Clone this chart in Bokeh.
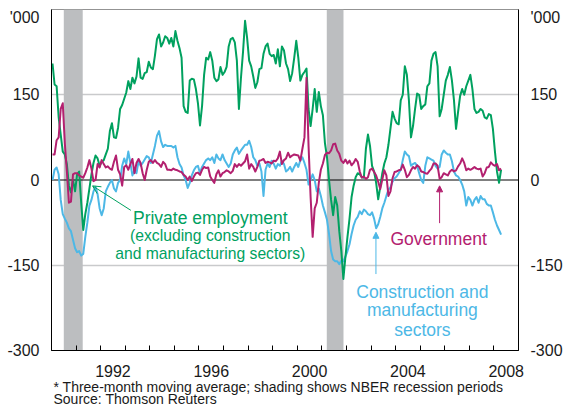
from bokeh.plotting import figure
from bokeh.models import (Range1d, LinearAxis, FixedTicker, BoxAnnotation, Span,
                          Arrow, OpenHead, NormalHead, Title)
from bokeh.embed import file_html
from bokeh.resources import INLINE
from bokeh.core.properties import value

# ---------------- data (monthly, from January 1990; '000, 3-month moving average) -------------
start_year = 1990

private_employment = [
    205, 168, 165, 110, 80, 50, 45, 28, -10, -22,
    0, -20, 10, 15, -40, -88, -60, -40, -15, 10,
    30, 43, 38, 25, 32, 35, 45, 55, 86, 100,
    75, 74, 92, 125, 132, 143, 154, 174, 160, 180,
    170, 182, 214, 180, 178, 188, 190, 208, 198, 195,
    219, 248, 256, 235, 242, 253, 250,
    240, 250, 235, 262, 245, 232, 215, 130, 120, 118,
    175, 178, 177, 160, 135, 96, 130, 185, 215, 212,
    225, 210, 180, 174, 177, 199, 185, 190, 199, 235,
    248, 250, 242, 210, 125, 180, 225, 280, 250, 210,
    200, 182, 162, 172, 195, 197, 222, 235, 240, 222,
    218, 220, 205, 230, 200, 235, 228,
    205, 195, 174, 188, 215, 245, 215, 175, 185, 190,
    196, 125, 95, 125, 160, 120, 155, 130, 114, 65,
    40, 0, -35, -62, -30, -45, -90, -125, -174, -135,
    -100, -68, -30, -10, 5, 12, 10, 5, 4, 55,
    80, 60, 25, 15, -5, -34, -12, 12, 29, 40,
    62, 91, 120, 108, 100, 98, 140,
    150, 200, 185, 140, 75, 95, 125, 152, 150, 125,
    130, 133, 165, 170, 210, 222, 225, 200, 112, 125,
    150, 175, 185, 199, 175, 140, 90, 120, 148, 160,
    150, 165, 175, 185, 160, 125, 118, 120, 125, 122,
    110, 108, 116, 114, 90, 50, 15, -5, 18,
]

government = [
    45, 45, 70, 75, 125, 135, 65, 15, -40, -38,
    10, 12, 12, 8, 6, 4, 12, 22, 35, 20,
    -2, 0, 28, 22, 35, 28, 22, 24, 20, 18,
    32, 43, 18, 10, -10, 23, 26, 18, 28, 37,
    12, 30, 37, 30, 12, 0, 18, 32, 35, 30,
    35, 30, 28, 23, 32, 28, 18,
    18, 17, 20, 18, 17, 15, 14, 9, 6, 0,
    6, -2, 6, 12, 13, 9, 18, 23, 21, 22,
    6, 0, -5, 10, 17, 6, 12, 14, 17, 15,
    12, 16, 28, 23, 28, 25, 29, 33, 45, 20,
    28, 23, 15, 23, 34, 35, 37, 30, 32, 31,
    29, 34, 33, 38, 50, 28, 35,
    38, 48, 40, 43, 45, 44, 43, 34, 55, 75,
    180, 60, -30, -100, -50, -40, -5, 18, 29, 44,
    48, 47, 52, 63, 64, 52, 46, 34, 30, 36,
    29, 34, 26, 30, 37, 32, 15, 4, 6, 2,
    5, 18, 20, 14, 8, -3, -16, 1, 17, 8,
    -28, -20, 3, 14, 15, 17, 18,
    27, 18, 5, 9, 17, 23, 20, 26, 23, 15,
    14, 12, 11, 16, 20, 29, 29, 25, 2, 5,
    12, 10, 8, 15, 18, 15, 17, 24, 29, 38,
    30, 17, 20, 18, 20, 23, 20, 19, 20, 6,
    12, 22, 23, 31, 27, 25, 28, 17, 20,
]

construction_manufacturing = [
    0, 18, 22, 10, -35, -60, -68, -75, -85, -90,
    -105, -120, -127, -125, -133, -130, -100, -75, -45, -35,
    -20, -12, -25, -50, -62, -50, -20, -12, -5, 0,
    -15, -20, -5, 0, 25, 38, 28, 50, 30, 8,
    17, 12, 33, 25, 30, 36, 42, 40, 30, 45,
    60, 78, 86, 68, 58, 62, 60,
    60, 60, 57, 60, 40, 28, 22, 8, 0, -14,
    -5, 8, 17, 23, 25, 12, 23, 29, 35, 38,
    35, 40, 30, 45, 38, 35, 45, 35, 29, 23,
    29, 45, 52, 57, 46, 52, 57, 62, 62, 69,
    58, 40, 35, 25, 29, 15, -28, 18, 29, 23,
    34, 29, 20, 28, 25, 34, 28,
    15, 18, 23, 15, 23, 30, 23, 35, 40, 30,
    18, -8, 0, 10, 0, -20, -15, -28, -45, -57,
    -70, -95, -125, -140, -143, -143, -148, -142, -143, -135,
    -125, -113, -95, -80, -70, -65, -55, -60, -52, -55,
    -60, -62, -57, -68, -85, -78, -65, -50, -40, -28,
    -17, -13, -3, 3, 6, 12, 18,
    35, 50, 45, 42, 25, 28, 30, 25, 12, 0,
    -5, 25, 40, 38, 36, 34, 25, 20, 23, 45,
    52, 48, 45, 45, 33, 15, 8, 6, 0, -8,
    -20, -45, -30, -35, -45, -35, -30, -40, -28, -34,
    -34, -42, -45, -45, -57, -70, -80, -88, -96,
]

recession_start = [1990.5, 2001.2]
recession_end = [1991.27, 2001.88]

y_ticks = [-300, -150, 0, 150]
y_tick_labels = ["-300", "-150", "0", "150"]
unit_label = "'000"
grid_ticks = [-150, 150]
year_ticks = list(range(1990, 2010))
label_years = [1992, 1996, 2000, 2004, 2008]
year_labels = ["1992", "1996", "2000", "2004", "2008"]
footnote_lines = ["*  Three-month moving average; shading shows NBER recession periods",
                  "Source: Thomson Reuters"]

months = [start_year + (i + 0.5) / 12 for i in range(len(private_employment))]

# ---------------- styles ----------------
FONT = "Liberation Sans"
GREEN = "#00A15F"
MAGENTA = "#B3206F"
BLUE = "#4DB8E6"
TEXT = "#1a1a1a"
UNIT_POS = 286.2  # unit label sits just below the top of the axis

p = figure(width=565, height=407, output_backend="svg", toolbar_location=None,
           x_range=Range1d(1990, 2009), y_range=Range1d(-300, 300),
           min_border_left=51, min_border_right=39, min_border_top=9,
           min_border_bottom=57)
p.title.visible = False
p.outline_line_color = "#939393"
p.outline_line_width = 1
p.background_fill_color = "white"
p.border_fill_color = "white"

# grid
p.xgrid.visible = False
p.ygrid.ticker = FixedTicker(ticks=grid_ticks)
p.ygrid.grid_line_color = "#c9cacc"
p.ygrid.grid_line_width = 1.3

# recession shading
for s, e in zip(recession_start, recession_end):
    p.add_layout(BoxAnnotation(left=s, right=e, fill_color="#bcbec0", fill_alpha=1.0,
                               line_color=None, level="underlay"))

p.add_layout(Span(location=0, dimension="width", line_color="black", line_width=1,
                  level="underlay"))

# x axis: yearly ticks inside, labels centred in year
xa = p.xaxis[0]
label_pos = [y + 0.5 for y in label_years]
xa.ticker = FixedTicker(ticks=label_pos, minor_ticks=year_ticks)
xa.major_label_overrides = {pos: lab for pos, lab in zip(label_pos, year_labels)}
xa.major_tick_line_color = None
xa.minor_tick_line_color = "black"
xa.minor_tick_in = 5
xa.minor_tick_out = 0
xa.axis_line_color = "black"
xa.major_label_standoff = 8
xa.major_label_text_font = FONT
xa.major_label_text_font_size = "16px"
xa.major_label_text_color = TEXT

def style_y(ax):
    ax.ticker = FixedTicker(ticks=y_ticks + [UNIT_POS])
    overrides = {t: lab for t, lab in zip(y_ticks, y_tick_labels)}
    overrides[UNIT_POS] = unit_label
    ax.major_label_overrides = overrides
    ax.major_tick_line_color = None
    ax.minor_tick_line_color = None
    ax.axis_line_color = "black"
    ax.major_label_standoff = 6
    ax.major_label_text_font = FONT
    ax.major_label_text_font_size = "16px"
    ax.major_label_text_color = TEXT

style_y(p.yaxis[0])
ry = LinearAxis()
style_y(ry)
p.add_layout(ry, "right")

# footnote / source (two title lines below the x axis)
for line, so in zip(footnote_lines, [-6, -5]):
    p.add_layout(Title(text=line, align="left", offset=2, standoff=so,
                       text_font=FONT, text_font_size="14px", text_font_style="normal",
                       text_color=TEXT), "below")

# series
p.line(months, construction_manufacturing, line_color=BLUE, line_width=2, line_join="round")
p.line(months, private_employment, line_color=GREEN, line_width=2, line_join="round")
p.line(months, government, line_color=MAGENTA, line_width=2, line_join="round")

# annotations
p.text(x=[1996.46], y=[-66.7], text=["Private employment"], text_align="center",
       text_baseline="alphabetic", text_font=value(FONT), text_font_size=value("17.5px"),
       text_color=GREEN)
p.text(x=[1996.46, 1996.46], y=[-97.7, -129.8],
       text=["(excluding construction", "and manufacturing sectors)"],
       text_align="center", text_baseline="alphabetic", text_font=value(FONT),
       text_font_size=value("15.7px"), text_color=GREEN)
p.text(x=[2005.75], y=[-104], text=["Government"], text_align="center",
       text_baseline="alphabetic", text_font=value(FONT), text_font_size=value("17.5px"),
       text_color=MAGENTA)
p.text(x=[2005.09, 2005.09, 2005.09], y=[-196.6, -228.4, -263.8],
       text=["Construction and", "manufacturing", "sectors"],
       text_align="center", text_baseline="alphabetic", text_font=value(FONT),
       text_font_size=value("17.5px"), text_color=BLUE)

p.add_layout(Arrow(x_start=1993.23, y_start=-53.4, x_end=1991.67, y_end=-10.3,
                   line_color=GREEN, line_width=1,
                   end=OpenHead(size=8, line_color=GREEN, line_width=1)))
p.add_layout(Arrow(x_start=2005.79, y_start=-75.9, x_end=2005.79, y_end=-10.3,
                   line_color=MAGENTA, line_width=1,
                   end=NormalHead(size=6, line_color=MAGENTA, fill_color=MAGENTA, line_width=1)))
p.add_layout(Arrow(x_start=2003.2, y_start=-165.5, x_end=2003.2, y_end=-92,
                   line_color=BLUE, line_width=1,
                   end=NormalHead(size=6, line_color=BLUE, fill_color=BLUE, line_width=1)))

open("out.html", "w").write(file_html(p, INLINE))
